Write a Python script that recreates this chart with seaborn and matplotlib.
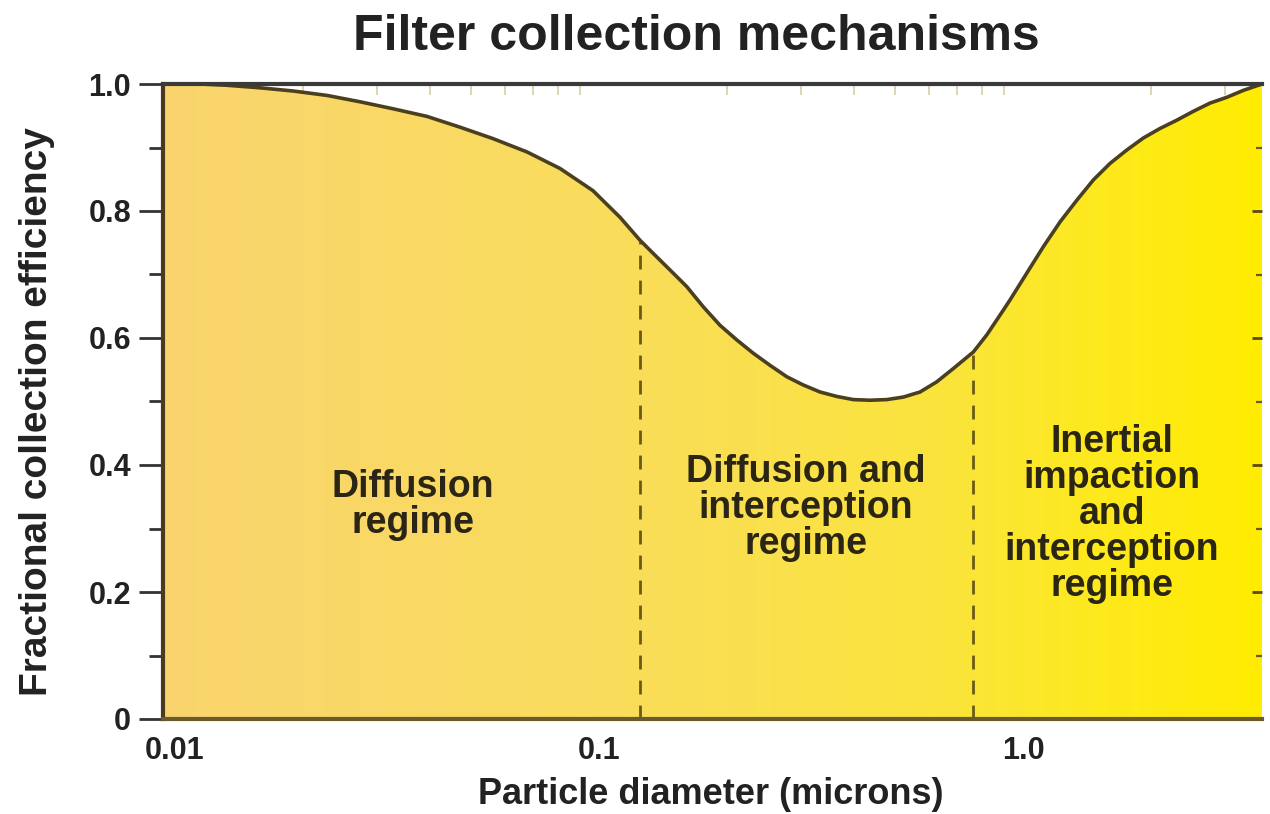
import numpy as np
import pandas as pd
import matplotlib
matplotlib.use("Agg")
import matplotlib.pyplot as plt
from matplotlib.colors import LinearSegmentedColormap
from matplotlib.ticker import FixedLocator, FixedFormatter, LogLocator, NullFormatter, MultipleLocator
import seaborn as sns

# Fractional collection efficiency vs particle diameter (microns)
diameter = [0.00937, 0.01145, 0.01326, 0.01587, 0.01898, 0.02284, 0.02731, 0.03267,
            0.03928, 0.04701, 0.05623, 0.06763, 0.0809, 0.09678, 0.1121, 0.1249,
            0.1343, 0.1471, 0.1610, 0.1762, 0.1929, 0.2113, 0.2311, 0.2531,
            0.2772, 0.3032, 0.3320, 0.3636, 0.3979, 0.4357, 0.4771, 0.5221,
            0.5717, 0.6259, 0.6850, 0.7635, 0.8213, 0.8986, 0.9317, 1.020,
            1.117, 1.223, 1.339, 1.465, 1.604, 1.756, 1.922, 2.104,
            2.304, 2.521, 2.761, 3.022, 3.308, 3.66]
efficiency = [1.0, 1.0, 0.998, 0.994, 0.989, 0.982, 0.972, 0.961,
              0.949, 0.932, 0.914, 0.893, 0.867, 0.832, 0.790, 0.754,
              0.733, 0.707, 0.681, 0.649, 0.620, 0.597, 0.576, 0.557,
              0.539, 0.526, 0.515, 0.508, 0.503, 0.502, 0.503, 0.507,
              0.515, 0.531, 0.552, 0.578, 0.605, 0.644, 0.660, 0.702,
              0.744, 0.783, 0.817, 0.849, 0.875, 0.896, 0.915, 0.930,
              0.943, 0.957, 0.970, 0.979, 0.990, 1.0]

# Regime boundaries (diameter, efficiency where the boundary meets the curve)
boundary_x = [0.1249, 0.7635]
boundary_top = [0.754, 0.578]

regime_labels = ["Diffusion\nregime",
                 "Diffusion and\ninterception\nregime",
                 "Inertial\nimpaction\nand\ninterception\nregime"]
regime_x = [0.0364, 0.308, 1.62]
regime_y = [0.337, 0.332, 0.323]

x_ticks = [0.01, 0.1, 1.0]
x_ticklabels = ["0.01", "0.1", "1.0"]
y_ticks = [0, 0.2, 0.4, 0.6, 0.8, 1.0]
y_ticklabels = ["0", "0.2", "0.4", "0.6", "0.8", "1.0"]
right_major = [0.2, 0.4, 0.6, 0.8]
right_minor = [0.1, 0.3, 0.5, 0.7, 0.9]

sns.set_theme(style="white")
plt.rcParams["font.family"] = ["Liberation Sans", "DejaVu Sans"]
plt.rcParams["font.weight"] = "bold"

df = pd.DataFrame({"diameter": diameter, "efficiency": efficiency})

fig = plt.figure(figsize=(12.7, 8.14), dpi=100)
rect = [163 / 1270, 1 - 719 / 814, (1262 - 163) / 1270, (719 - 84) / 814]
ax = fig.add_axes(rect)
ax.set_xscale("log")
xmin, xmax = diameter[0], diameter[-1]
ax.set_xlim(xmin, xmax)
ax.set_ylim(0, 1)

# Horizontal warm-to-yellow gradient under the curve
cmap = LinearSegmentedColormap.from_list(
    "warm", [(0.0, "#F9D46E"), (0.4, "#F9DC5C"), (0.72, "#FAE43A"),
             (0.86, "#FDE91C"), (1.0, "#FFEC00")])
gx = np.geomspace(xmin, xmax, 300)
gy = np.array([0, 1])
GX, GY = np.meshgrid(gx, gy)
C = np.log10(GX[:-1, :-1] / xmin) / np.log10(xmax / xmin)
mesh = ax.pcolormesh(GX, GY, C, cmap=cmap, shading="flat", zorder=1, rasterized=True)
poly = ax.fill_between(diameter, 0, efficiency, color="none", linewidth=0)
mesh.set_clip_path(poly.get_paths()[0], transform=ax.transData)

# Efficiency curve
sns.lineplot(data=df, x="diameter", y="efficiency", ax=ax, color="#4A4020",
             linewidth=2.6, zorder=4, sort=False)

# Regime boundaries
for bx, bt in zip(boundary_x, boundary_top):
    ax.vlines(bx, 0, bt, colors="#6B5A14", linestyles=(0, (5, 4)), linewidth=2.0, zorder=3)

for lab, rx, ry in zip(regime_labels, regime_x, regime_y):
    ax.text(rx, ry, lab, ha="center", va="center", multialignment="center",
            fontsize=27, fontweight="bold", color="#2A2515", linespacing=1.0, zorder=5)

# Axes styling
ax.set_xlabel("")
ax.set_ylabel("")
ax.spines["right"].set_visible(False)
ax.spines["top"].set_color("#3A3A3A")
ax.spines["top"].set_linewidth(3)
ax.spines["left"].set_color("#4A3A1F")
ax.spines["left"].set_linewidth(3)
ax.spines["bottom"].set_color("#6B5A2A")
ax.spines["bottom"].set_linewidth(3)
for s in ax.spines.values():
    s.set_zorder(6)

ax.xaxis.set_major_locator(FixedLocator(x_ticks))
ax.xaxis.set_major_formatter(FixedFormatter(x_ticklabels))
ax.xaxis.set_minor_locator(LogLocator(base=10, subs=np.arange(2, 10)))
ax.xaxis.set_minor_formatter(NullFormatter())
ax.tick_params(axis="x", which="major", direction="in", length=0, pad=12,
               labelsize=22, labelcolor="#222222", top=False)
ax.tick_params(axis="x", which="minor", direction="in", length=8, width=1.2,
               color="#D8CDA8", top=True, bottom=True)

ax.yaxis.set_major_locator(FixedLocator(y_ticks))
ax.yaxis.set_major_formatter(FixedFormatter(y_ticklabels))
ax.yaxis.set_minor_locator(MultipleLocator(0.1))
ax.tick_params(axis="y", which="major", direction="out", length=17, width=2,
               color="#333333", pad=6, labelsize=22, labelcolor="#222222",
               left=True, right=False)
ax.tick_params(axis="y", which="minor", direction="out", length=10, width=2,
               color="#333333", left=True, right=False)
for lab in ax.get_xticklabels() + ax.get_yticklabels():
    lab.set_fontweight("bold")

# Short inward tick marks along the right edge, drawn on an overlay axis
axr = ax.twinx()
axr.set_ylim(0, 1)
axr.patch.set_visible(False)
for s in axr.spines.values():
    s.set_visible(False)
axr.yaxis.set_major_locator(FixedLocator(right_major))
axr.yaxis.set_minor_locator(FixedLocator(right_minor))
axr.tick_params(axis="y", which="major", direction="in", length=7, width=2,
                color="#5A4A14", labelright=False, right=True, left=False)
axr.tick_params(axis="y", which="minor", direction="in", length=4, width=1.6,
                color="#6A5A24", right=True, left=False)

fig.text(696 / 1270, 1 - 37 / 814, "Filter collection mechanisms", ha="center", va="center",
         fontsize=36, fontweight="bold", color="#222222")
fig.text(711 / 1270, 1 - 795 / 814, "Particle diameter (microns)", ha="center", va="center",
         fontsize=26, fontweight="bold", color="#222222")
fig.text(37 / 1270, 1 - 412 / 814, "Fractional collection efficiency", ha="center", va="center",
         rotation=90, fontsize=28, fontweight="bold", color="#222222")

fig.savefig("out.png", dpi=100, facecolor="white")
